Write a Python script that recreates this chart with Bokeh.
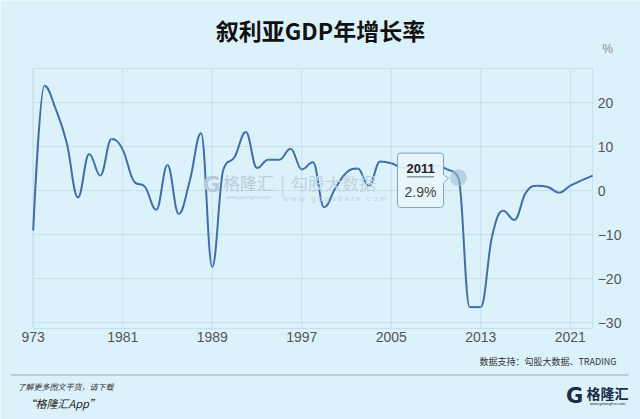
from bokeh.plotting import figure
from bokeh.models import Label, FixedTicker, Range1d, BoxAnnotation
from bokeh.core.properties import value
from bokeh.embed import file_html
from bokeh.resources import INLINE

# ---------------- data ----------------
years = list(range(1973, 2024))
growth = [
    -9.1, 23.8, 18.6, 10.8, -1.6, 8.3, 3.4, 11.7, 9.3, 2.1,      # 1973-1982
    0.8, -4.4, 5.8, -5.3, 2.3, 13.0, -17.4, 4.8, 7.6, 13.3,      # 1983-1992
    5.1, 7.0, 7.0, 9.5, 4.8, 6.4, -3.8, 0.5, 4.1, 5.0,           # 1993-2002
    1.0, 6.6, 6.2, 5.2, 5.7, 4.8, 5.6, 4.8, 2.9, -26.5,          # 2003-2012
    -26.5, -10.5, -4.6, -6.7, -0.6, 1.1, 0.8, -0.5, 1.1, 2.3,    # 2013-2022
    3.4,                                                         # 2023
]
x_ticks = [1973, 1981, 1989, 1997, 2005, 2013, 2021]
y_ticks = [-30, -20, -10, 0, 10, 20]
title_text = "叙利亚GDP年增长率"
unit_text = "%"
source_text = "数据支持：勾股大数据、TRADING"
hl_year = 2011
hl_value = growth[years.index(hl_year)]

# ---------------- layout / style ----------------
W, H = 640, 419
BG = "#dcf2fb"
GRID = "#c6dfeb"
LINE = "#3f6fa9"
# chart area in canvas pixels
CL, CR, CT, CB = 32.7, 592.2, 68.0, 328.0
X0, X1 = 1973, 2023            # x extent of chart area
Y0, Y1 = -31.36, 27.73         # y extent of chart area
kx = (CR - CL) / (X1 - X0)
ky = (CB - CT) / (Y1 - Y0)

p = figure(width=W, height=H, output_backend="svg", toolbar_location=None,
           x_range=Range1d(X0 - CL / kx, X1 + (W - CR) / kx),
           y_range=Range1d(Y0 - (H - CB) / ky, Y1 + CT / ky),
           y_axis_location="right", min_border=0,
           min_border_left=0, min_border_right=0, min_border_top=0, min_border_bottom=0)
p.background_fill_color = BG
p.border_fill_color = BG
p.outline_line_color = None
p.xgrid.visible = False
p.ygrid.visible = False

p.xaxis.ticker = FixedTicker(ticks=x_ticks)
p.yaxis.ticker = FixedTicker(ticks=y_ticks)
p.xaxis.major_label_overrides = {1973: "973"}
p.xaxis.fixed_location = Y0
p.yaxis.fixed_location = X1
for ax in (p.xaxis, p.yaxis):
    ax.axis_line_color = None
    ax.major_tick_line_color = None
    ax.minor_tick_line_color = None
    ax.major_tick_out = 0
    ax.minor_tick_out = 0
    ax.major_tick_in = 0
    ax.minor_tick_in = 0
    ax.major_label_text_font = "Liberation Sans"
    ax.major_label_text_font_size = "14px"
    ax.major_label_text_color = "#555555"
p.xaxis.major_label_standoff = 3
p.yaxis.major_label_standoff = 5

# grid lines at the tick values, and plot border
p.segment(x0=x_ticks, y0=[Y0] * len(x_ticks), x1=x_ticks, y1=[Y1] * len(x_ticks),
          line_color=GRID, line_width=1)
p.segment(x0=[X0] * len(y_ticks), y0=y_ticks, x1=[X1] * len(y_ticks), y1=y_ticks,
          line_color=GRID, line_width=1)
p.quad(left=[X0], right=[X1], bottom=[Y0], top=[Y1], fill_color=None,
       line_color=GRID, line_width=1)

# ---------------- Highcharts-like spline ----------------
def spline_controls(xs, ys, s=1.5):
    d = s + 1
    lc = [[x, y] for x, y in zip(xs, ys)]
    rc = [[x, y] for x, y in zip(xs, ys)]
    for i in range(1, len(xs) - 1):
        px, py = xs[i], ys[i]
        lx, ly = xs[i - 1], ys[i - 1]
        nx, ny = xs[i + 1], ys[i + 1]
        lcx, lcy = (s * px + lx) / d, (s * py + ly) / d
        rcx, rcy = (s * px + nx) / d, (s * py + ny) / d
        if rcx != lcx:
            corr = ((rcy - lcy) * (rcx - px)) / (rcx - lcx) + py - rcy
            lcy += corr
            rcy += corr
        if lcy > ly and lcy > py:
            lcy = max(ly, py); rcy = 2 * py - lcy
        elif lcy < ly and lcy < py:
            lcy = min(ly, py); rcy = 2 * py - lcy
        if rcy > ny and rcy > py:
            rcy = max(ny, py); lcy = 2 * py - rcy
        elif rcy < ny and rcy < py:
            rcy = min(ny, py); lcy = 2 * py - rcy
        lc[i] = [lcx, lcy]
        rc[i] = [rcx, rcy]
    return lc, rc

lc, rc = spline_controls(years, growth)
n = len(years)
p.bezier(x0=years[:-1], y0=growth[:-1], x1=years[1:], y1=growth[1:],
         cx0=[rc[i][0] for i in range(n - 1)], cy0=[rc[i][1] for i in range(n - 1)],
         cx1=[lc[i + 1][0] for i in range(n - 1)], cy1=[lc[i + 1][1] for i in range(n - 1)],
         line_color=LINE, line_width=2)

# hover halo
p.scatter([hl_year], [hl_value], size=17, fill_color="#9dbad3", fill_alpha=0.55, line_color=None)

# ---------------- text helper (canvas px from top-left) ----------------
def lab(text, cx, cy, size, color, font="Noto Sans CJK SC", style="normal",
        align="left", baseline="middle", alpha=1.0):
    p.add_layout(Label(x=cx, y=H - cy, x_units="screen", y_units="screen",
                       text=text, text_font=font, text_font_size=f"{size}px",
                       text_color=color, text_font_style=style, text_align=align,
                       text_baseline=baseline, text_alpha=alpha))

# watermark
lab("G", 211, 184, 22, "#b5cadb", font="DejaVu Sans", style="bold", align="center")
lab("格隆汇", 248, 182, 17, "#b7ccdc", align="center")
lab("www.gelonghui.com", 248, 196, 5, "#b7ccdc", font="Liberation Sans", align="center")
lab("|", 282, 184, 22, "#c9dbe6", font="Liberation Sans", align="center")
lab("勾股大数据", 333, 182, 17, "#bfd2df", align="center")
lab("w w w . g o g u d a t a . c o m", 334, 198, 8, "#bfd2df", font="Liberation Sans", align="center")

# tooltip box
box_l, box_r = 2005.56, 2009.67
box_t, box_b = 8.5, -3.86
p.quad(left=[box_l], right=[box_r], top=[box_t], bottom=[box_b],
       fill_color="#e8f5fb", fill_alpha=0.92, line_color="#7fa3c6", line_width=1,
       border_radius=3)
p.patch(x=[box_r, box_r + 0.45, box_r], y=[3.5, 2.9, 1.7],
        fill_color="#e8f5fb", line_color="#7fa3c6", line_width=1)
p.segment(x0=[box_r - 0.02], y0=[3.45], x1=[box_r - 0.02], y1=[1.75],
          line_color="#e8f5fb", line_width=2)
p.text(x=[(box_l + box_r) / 2], y=[5.0], text=[str(hl_year)],
       text_font=value("Liberation Sans"), text_font_size="13px", text_font_style="bold",
       text_color="#222222", text_align="center", text_baseline="middle")
p.segment(x0=[box_l + 0.85], y0=[3.1], x1=[box_r - 0.85], y1=[3.1],
          line_color="#666666", line_width=1)
p.text(x=[(box_l + box_r) / 2], y=[-0.4], text=[f"{hl_value}%"],
       text_font=value("Liberation Sans"), text_font_size="14px",
       text_color="#444444", text_align="center", text_baseline="middle")

# title, unit, footer
lab(title_text, 320, 29, 23, "#111111", style="bold", align="center")
lab(unit_text, 607, 48, 12, "#888888", font="Liberation Sans", align="center")
lab(source_text, 616, 361, 9, "#333333", align="right")
p.add_layout(BoxAnnotation(left=10, right=628, bottom=H - 375, top=H - 374,
                           left_units="screen", right_units="screen",
                           bottom_units="screen", top_units="screen",
                           fill_color="#8faabb", fill_alpha=1, line_color=None))
lab("了解更多图文干货，请下载", 17, 386, 8, "#333333", style="italic")
lab("“格隆汇App”", 24, 402, 11, "#222222", style="italic")
lab("G", 574, 395, 21, "#1d2b45", font="DejaVu Sans", style="bold", align="center")
lab("格隆汇", 607, 392, 14, "#1d2b45", style="bold", align="center")
lab("www.gelonghui.com", 607, 403, 4, "#1d2b45", font="Liberation Sans", align="center")

open("out.html", "w").write(file_html(p, INLINE))
